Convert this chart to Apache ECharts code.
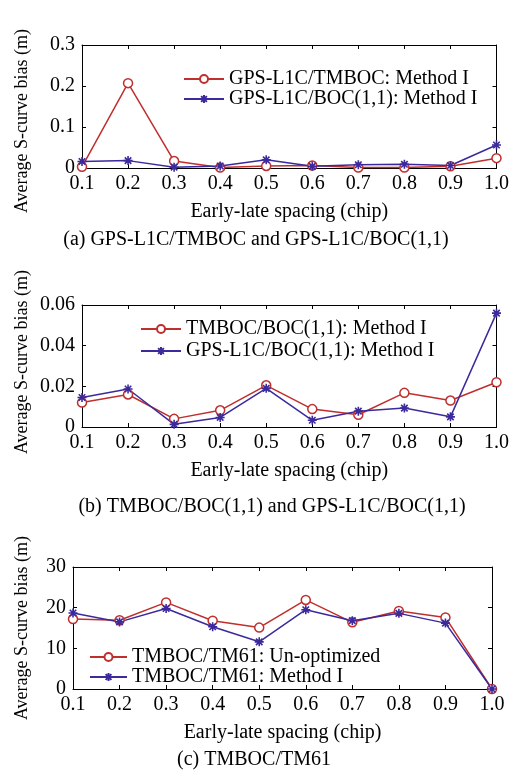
<!DOCTYPE html>
<html>
<head>
<meta charset="utf-8">
<script src="https://cdn.jsdelivr.net/npm/echarts@6/dist/echarts.min.js"></script>
<style>
  html, body { margin: 0; padding: 0; background: #fff; }
  #chart { width: 512px; height: 782px; }
</style>
</head>
<body>
<div id="chart"></div>
<script>
// spacing values (chip)
const spacing = ['0.1', '0.2', '0.3', '0.4', '0.5', '0.6', '0.7', '0.8', '0.9', '1.0'];

// (a) GPS-L1C/TMBOC and GPS-L1C/BOC(1,1)
const aTmboc = [0.003, 0.207, 0.017, 0.001, 0.005, 0.006, 0.001, 0.001, 0.004, 0.024];
const aBoc11 = [0.016, 0.018, 0.002, 0.005, 0.020, 0.004, 0.008, 0.009, 0.006, 0.056];

// (b) TMBOC/BOC(1,1) and GPS-L1C/BOC(1,1)
const bTmbocBoc = [0.0120, 0.0160, 0.0040, 0.0082, 0.0205, 0.0088, 0.0060, 0.0168, 0.0130, 0.0220];
const bGpsBoc = [0.0145, 0.0187, 0.0013, 0.0047, 0.0190, 0.0033, 0.0078, 0.0093, 0.0050, 0.0560];

// (c) TMBOC/TM61
const cUnopt = [17.2, 16.9, 21.3, 16.8, 15.1, 21.9, 16.4, 19.2, 17.6, 0];
const cMethod = [18.7, 16.5, 19.8, 15.3, 11.6, 19.5, 16.8, 18.6, 16.2, 0];

const FONT = "'Liberation Serif', 'Times New Roman', serif";
const RED = '#bf2f2e';
const BLUE = '#3b2a9c';

const chart = echarts.init(document.getElementById('chart'));

const grids = [
  { left: 82, top: 45, width: 417, height: 123 },
  { left: 82, top: 305, width: 416, height: 122 },
  { left: 73, top: 567, width: 419, height: 122 }
];

const yRanges = [
  { max: 0.3, interval: 0.1 },
  { max: 0.06, interval: 0.02 },
  { max: 30, interval: 10 }
];

const lineAxis = { show: true, onZero: false, lineStyle: { color: '#000', width: 1 } };
const inTick = { show: true, inside: true, length: 4, lineStyle: { color: '#000' } };

const xAxes = [];
const yAxes = [];
grids.forEach((g, i) => {
  xAxes.push({
    type: 'category', gridIndex: i, data: spacing, boundaryGap: false, position: 'bottom',
    axisLine: lineAxis, axisTick: inTick,
    axisLabel: { color: '#000', fontFamily: FONT, fontSize: 20, margin: 6 },
    splitLine: { show: false },
    name: 'Early-late spacing (chip)', nameLocation: 'middle', nameGap: 34,
    nameTextStyle: { color: '#000', fontFamily: FONT, fontSize: 20 }
  });
  xAxes.push({
    type: 'category', gridIndex: i, data: spacing, boundaryGap: false, position: 'top',
    axisLine: lineAxis, axisTick: inTick, axisLabel: { show: false }, splitLine: { show: false }
  });
  yAxes.push({
    type: 'value', gridIndex: i, min: 0, max: yRanges[i].max, interval: yRanges[i].interval,
    position: 'left', axisLine: lineAxis, axisTick: inTick,
    axisLabel: { color: '#000', fontFamily: FONT, fontSize: 20, margin: 7 },
    splitLine: { show: false }
  });
  yAxes.push({
    type: 'value', gridIndex: i, min: 0, max: yRanges[i].max, interval: yRanges[i].interval,
    position: 'right', axisLine: lineAxis, axisTick: inTick,
    axisLabel: { show: false }, splitLine: { show: false }
  });
});

const asterisk = 'path://M0,-5L0,5M-5,0L5,0M-3.6,-3.6L3.6,3.6M-3.6,3.6L3.6,-3.6';

function redSeries(name, data, gi) {
  return {
    name, type: 'line', data, xAxisIndex: gi * 2, yAxisIndex: gi * 2,
    symbol: 'circle', symbolSize: 9, showAllSymbol: true,
    lineStyle: { color: RED, width: 1.5 },
    itemStyle: { color: '#fff', borderColor: RED, borderWidth: 1.5 },
    animation: false
  };
}
function blueSeries(name, data, gi) {
  return {
    name, type: 'line', data, xAxisIndex: gi * 2, yAxisIndex: gi * 2,
    symbol: asterisk, symbolSize: 9, showAllSymbol: true,
    lineStyle: { color: BLUE, width: 1.5 },
    itemStyle: { color: BLUE, borderColor: BLUE, borderWidth: 1.6 },
    animation: false
  };
}

const series = [
  redSeries('GPS-L1C/TMBOC: Method I', aTmboc, 0),
  blueSeries('GPS-L1C/BOC(1,1): Method I', aBoc11, 0),
  redSeries('TMBOC/BOC(1,1): Method I', bTmbocBoc, 1),
  blueSeries('GPS-L1C/BOC(1,1): Method I ', bGpsBoc, 1),
  redSeries('TMBOC/TM61: Un-optimized', cUnopt, 2),
  blueSeries('TMBOC/TM61: Method I', cMethod, 2)
];

function legendAt(names, left, top, w, lh) {
  return {
    data: names, orient: 'vertical', left, top, itemGap: 0,
    itemWidth: w, itemHeight: 10,
    textStyle: { color: '#000', fontFamily: FONT, fontSize: 20, lineHeight: lh },
    selectedMode: false
  };
}

const yTitle = (x, y) => ({
  type: 'text', x, y, rotation: Math.PI / 2,
  style: { text: 'Average S-curve bias (m)', font: '18px ' + FONT, fill: '#000', align: 'center', verticalAlign: 'middle' }
});
const caption = (text, x, y) => ({
  type: 'text', x, y,
  style: { text, font: '20px ' + FONT, fill: '#000', align: 'center', verticalAlign: 'middle' }
});

chart.setOption({
  animation: false,
  backgroundColor: '#fff',
  grid: grids,
  xAxis: xAxes,
  yAxis: yAxes,
  legend: [
    legendAt(['GPS-L1C/TMBOC: Method I', 'GPS-L1C/BOC(1,1): Method I'], 178, 64, 40, 20),
    legendAt(['TMBOC/BOC(1,1): Method I', 'GPS-L1C/BOC(1,1): Method I '], 135, 313, 40, 22),
    legendAt(['TMBOC/TM61: Un-optimized', 'TMBOC/TM61: Method I'], 84, 642, 37, 17)
  ],
  series,
  graphic: [
    yTitle(22, 121),
    yTitle(22, 362),
    yTitle(22, 628),
    caption('(a) GPS-L1C/TMBOC and GPS-L1C/BOC(1,1)', 256, 240),
    caption('(b) TMBOC/BOC(1,1) and GPS-L1C/BOC(1,1)', 272, 507),
    caption('(c) TMBOC/TM61', 254, 760)
  ]
});
</script>
</body>
</html>
